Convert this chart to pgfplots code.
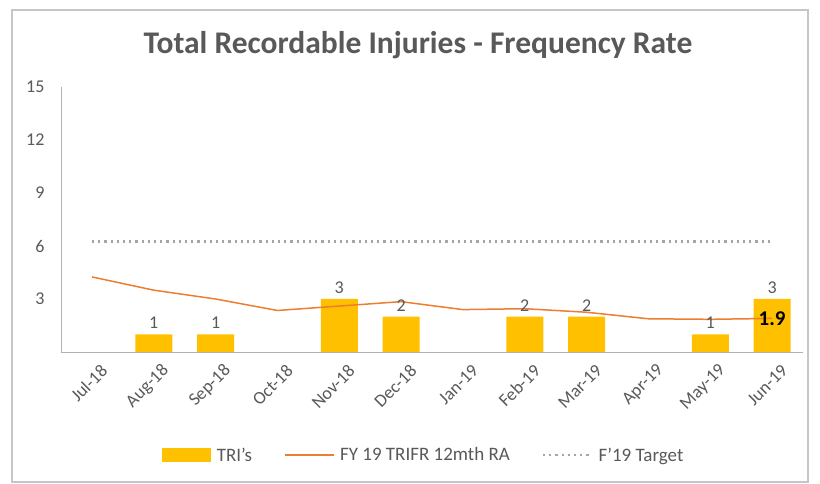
\documentclass[border=0pt]{standalone}
\usepackage{fontspec}
\setmainfont{Carlito}
\usepackage{pgfplots}
\pgfplotsset{compat=1.18}
\definecolor{barc}{HTML}{FFC000}
\definecolor{linec}{HTML}{ED7D31}
\definecolor{tgt}{HTML}{A5A5A5}
\definecolor{txt}{HTML}{595959}
\begin{document}
\begin{tikzpicture}[x=1pt,y=1pt]
\path[use as bounding box] (0,0) rectangle (820,484);
\draw[gray!45, line width=2pt] (12,2) rectangle (808,474);
\node[font=\fontsize{31.5}{35}\selectfont\bfseries, text=txt] at (418,439) {Total Recordable Injuries - Frequency Rate};
\begin{axis}[
  at={(61pt,132pt)}, anchor=south west,
  scale only axis, width=742pt, height=265pt,
  xmin=-0.5, xmax=11.5, ymin=0, ymax=15,
  axis x line*=bottom, axis y line*=left,
  axis line style={gray!60, line width=0.8pt},
  x axis line style={-}, y axis line style={-},
  xtick={0,...,11},
  xticklabels={Jul-18,Aug-18,Sep-18,Oct-18,Nov-18,Dec-18,Jan-19,Feb-19,Mar-19,Apr-19,May-19,Jun-19},
  ytick={3,6,9,12,15},
  major tick length=0pt,
  /pgf/number format/assume math mode=true,
  tick label style={font=\fontsize{18}{20}\selectfont, text=txt},
  x tick label style={rotate=45, anchor=east, yshift=-20pt, xshift=1pt},
  y tick label style={xshift=-13pt},
  legend style={at={(0.489,-0.389)}, anchor=center, draw=none, legend columns=3,
    font=\fontsize{19}{21}\selectfont, text=txt,
    /tikz/every odd column/.append style={column sep=3.5pt},
    /tikz/every even column/.append style={column sep=30pt}},
  clip=false,
]
\addplot[ybar, bar width=37pt, fill=barc, draw=none,
  nodes near coords, nodes near coords style={font=\fontsize{18}{20}\selectfont, text=txt, yshift=2pt},
  legend image code/.code={\fill[barc] (0pt,-7pt) rectangle (49pt,7pt);}]
  coordinates {(1,1) (2,1) (4,3) (5,2) (7,2) (8,2) (10,1) (11,3)};
\addlegendentry{TRI's}
\addplot[linec, line width=1.5pt, mark=none,
  legend image code/.code={\draw[linec, line width=1.5pt] (0pt,0pt) -- (49pt,0pt);}]
  coordinates {(0,4.25) (1,3.5) (2,3.0) (3,2.35) (4,2.6) (5,2.85) (6,2.4) (7,2.45) (8,2.25) (9,1.88) (10,1.85) (11,1.9)};
\addlegendentry{FY 19 TRIFR 12mth RA}
\addplot[tgt, line width=2.2pt, dash pattern=on 2.2pt off 4pt, mark=none,
  legend image code/.code={\draw[tgt, line width=2.2pt, dash pattern=on 2.2pt off 4pt] (0pt,0pt) -- (49pt,0pt);}]
  coordinates {(0,6.25) (11,6.25)};
\addlegendentry{F'19 Target}
\addplot[draw=none, mark=none, forget plot,
  nodes near coords={\textbf{1.9}}, nodes near coords align=center,
  nodes near coords style={font=\fontsize{21}{23}\selectfont, text=black, anchor=center}]
  coordinates {(11,1.9)};
\end{axis}
\end{tikzpicture}
\end{document}
